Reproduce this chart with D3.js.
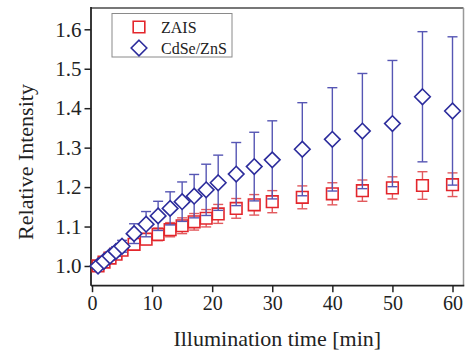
<!DOCTYPE html>
<html>
<head>
<meta charset="utf-8">
<script src="https://cdn.jsdelivr.net/npm/d3@7"></script>
<style>
  body { margin: 0; background: #fff; }
  svg text { font-family: "Liberation Serif", "Times New Roman", serif; fill: #222; }
</style>
</head>
<body>
<script>
const times = [1, 2, 3, 4, 5, 7, 9, 11, 13, 15, 17, 19, 21, 24, 27, 30, 35, 40, 45, 50, 55, 60];
const zaisValues = [1.0, 1.01, 1.02, 1.03, 1.04, 1.055, 1.068, 1.08, 1.092, 1.102, 1.112, 1.121, 1.132, 1.146, 1.155, 1.163, 1.174, 1.183, 1.191, 1.198, 1.204, 1.206];
const zaisErrors = [0.005, 0.006, 0.008, 0.01, 0.01, 0.012, 0.014, 0.016, 0.018, 0.02, 0.021, 0.022, 0.024, 0.025, 0.026, 0.028, 0.029, 0.028, 0.027, 0.028, 0.035, 0.03];
const cdseValues = [1.0, 1.012, 1.025, 1.037, 1.05, 1.082, 1.106, 1.127, 1.146, 1.163, 1.177, 1.193, 1.211, 1.233, 1.252, 1.269, 1.296, 1.321, 1.342, 1.361, 1.429, 1.393];
const cdseErrors = [0.005, 0.008, 0.01, 0.012, 0.015, 0.025, 0.032, 0.037, 0.042, 0.05, 0.055, 0.065, 0.07, 0.08, 0.087, 0.099, 0.118, 0.131, 0.146, 0.16, 0.165, 0.188];
const xTicks = [0, 10, 20, 30, 40, 50, 60];
const yTicks = [1.0, 1.1, 1.2, 1.3, 1.4, 1.5, 1.6];
const seriesNames = ['ZAIS', 'CdSe/ZnS'];

const width = 465, height = 353;
const plotL = 91, plotR = 463.5, plotT = 8, plotB = 285.7;

const svg = d3.select('body').append('svg')
    .attr('width', width)
    .attr('height', height);

const x = d3.scaleLinear().domain([-0.17, 61.83]).range([plotL, plotR]);
const y = d3.scaleLinear().domain([0.95, 1.654]).range([plotB, plotT]);

// frame: top and right in grey
svg.append('line').attr('x1', plotL).attr('x2', plotR).attr('y1', plotT).attr('y2', plotT)
    .attr('stroke', '#777').attr('stroke-width', 2);
svg.append('line').attr('x1', plotR).attr('x2', plotR).attr('y1', plotT).attr('y2', plotB)
    .attr('stroke', '#999').attr('stroke-width', 1.5);

// x axis
const xAxis = svg.append('g').attr('transform', `translate(0,${plotB})`);
xAxis.call(d3.axisBottom(x).tickValues(d3.range(5, 61, 10)).tickSize(3.5).tickFormat(''));
xAxis.call(d3.axisBottom(x).tickValues(xTicks).tickSize(6.5).tickPadding(4).tickFormat(d3.format('d')));
xAxis.selectAll('.domain').remove();
xAxis.selectAll('text').attr('font-size', 20).attr('dy', '0.71em');
xAxis.selectAll('line').attr('stroke', '#222').attr('stroke-width', 1.5);

// y axis
const yAxis = svg.append('g').attr('transform', `translate(${plotL},0)`);
yAxis.call(d3.axisLeft(y).tickValues([0.95, 1.05, 1.15, 1.25, 1.35, 1.45, 1.55]).tickSize(3.5).tickFormat(''));
yAxis.call(d3.axisLeft(y).tickValues(yTicks).tickSize(6.5).tickPadding(3).tickFormat(d3.format('.1f')));
yAxis.selectAll('.domain').remove();
yAxis.selectAll('text').attr('font-size', 21);
yAxis.selectAll('line').attr('stroke', '#222').attr('stroke-width', 1.5);

svg.append('line').attr('x1', plotL).attr('x2', plotR + 0.75).attr('y1', plotB).attr('y2', plotB)
    .attr('stroke', '#222').attr('stroke-width', 1.8);
svg.append('line').attr('x1', plotL).attr('x2', plotL).attr('y1', plotT - 1).attr('y2', plotB)
    .attr('stroke', '#222').attr('stroke-width', 1.8);

// axis titles
svg.append('text')
    .attr('x', (plotL + plotR) / 2).attr('y', 346)
    .attr('text-anchor', 'middle').attr('font-size', 22)
    .text('Illumination time [min]');
svg.append('text')
    .attr('transform', 'translate(33,162) rotate(-90)')
    .attr('text-anchor', 'middle').attr('font-size', 22)
    .text('Relative Intensity');

function errorBars(values, errors, color, capW) {
    const g = svg.append('g').attr('stroke', color).attr('stroke-width', 1.4).attr('fill', 'none');
    times.forEach((t, i) => {
        const cx = x(t), y1 = y(values[i] + errors[i]), y2 = y(values[i] - errors[i]);
        g.append('line').attr('x1', cx).attr('x2', cx).attr('y1', y1).attr('y2', y2);
        g.append('line').attr('x1', cx - capW / 2).attr('x2', cx + capW / 2).attr('y1', y1).attr('y2', y1);
        g.append('line').attr('x1', cx - capW / 2).attr('x2', cx + capW / 2).attr('y1', y2).attr('y2', y2);
    });
}

const sq = d3.symbol().type(d3.symbolSquare).size(135);
const dm = d3.symbol().type(d3.symbolDiamond2).size(155);

// ZAIS
errorBars(zaisValues, zaisErrors, '#e25a5e', 10);
svg.append('g').selectAll('path').data(times).enter().append('path')
    .attr('d', sq)
    .attr('transform', (t, i) => `translate(${x(t)},${y(zaisValues[i])})`)
    .attr('fill', '#fff').attr('stroke', '#e3262c').attr('stroke-width', 1.6);

// CdSe/ZnS
errorBars(cdseValues, cdseErrors, '#5656b4', 10);
svg.append('g').selectAll('path').data(times).enter().append('path')
    .attr('d', dm)
    .attr('transform', (t, i) => `translate(${x(t)},${y(cdseValues[i])})`)
    .attr('fill', '#fff').attr('stroke', '#2c2c9c').attr('stroke-width', 1.6);

// legend
const legend = svg.append('g');
legend.append('rect').attr('x', 112).attr('y', 13.5).attr('width', 120).attr('height', 43.5)
    .attr('fill', '#fff').attr('stroke', '#8a8a8a').attr('stroke-width', 1);
legend.append('path').attr('d', sq).attr('transform', 'translate(139,27)')
    .attr('fill', '#fff').attr('stroke', '#e3262c').attr('stroke-width', 1.6);
legend.append('path').attr('d', dm).attr('transform', 'translate(139,48)')
    .attr('fill', '#fff').attr('stroke', '#2c2c9c').attr('stroke-width', 1.6);
legend.selectAll('text').data(seriesNames).enter().append('text')
    .attr('x', 161).attr('y', (d, i) => 33 + i * 20.5)
    .attr('font-size', 16)
    .text(d => d);
</script>
</body>
</html>
